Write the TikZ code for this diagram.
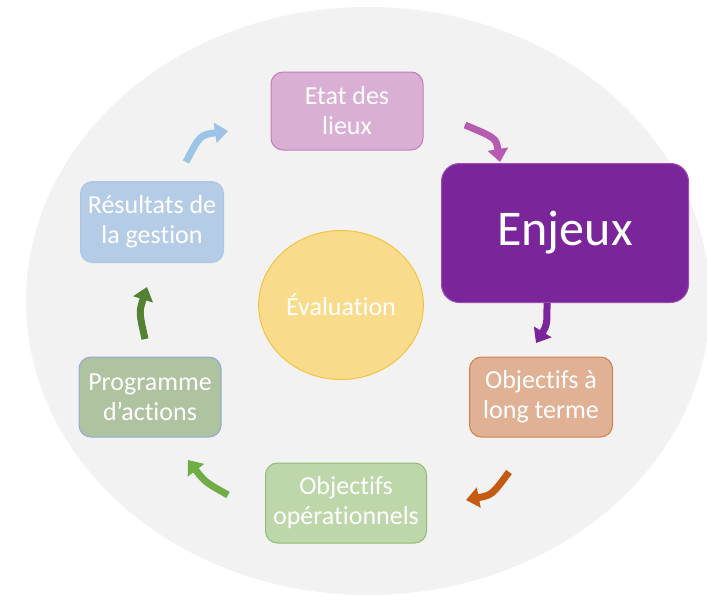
\documentclass[tikz,border=0pt]{standalone}
\usepackage{fontspec}
\setmainfont[Ligatures=NoCommon]{Carlito}
\usepackage{tikz}
\usetikzlibrary{shapes, arrows.meta, positioning}
\usepackage{xcolor}

\definecolor{fond}{HTML}{F2F2F2}
\definecolor{etatfill}{HTML}{D9AFD3}
\definecolor{etatline}{HTML}{C47BBD}
\definecolor{enjeuxfill}{HTML}{7A2599}
\definecolor{enjeuxline}{HTML}{9B4DB3}
\definecolor{longfill}{HTML}{E0B194}
\definecolor{longline}{HTML}{D28048}
\definecolor{opfill}{HTML}{BDD7AA}
\definecolor{opline}{HTML}{8FBC73}
\definecolor{progfill}{HTML}{AFC3A0}
\definecolor{progline}{HTML}{8EAADB}
\definecolor{resfill}{HTML}{B4CCE5}
\definecolor{resline}{HTML}{A9C6E6}
\definecolor{evalfill}{HTML}{F8DC8B}
\definecolor{evalline}{HTML}{F5C243}
\definecolor{flblue}{HTML}{9DC3E6}
\definecolor{flpink}{HTML}{B55CB0}
\definecolor{flpurple}{HTML}{7A2599}
\definecolor{florange}{HTML}{C55A11}
\definecolor{flgreen}{HTML}{70AD47}
\definecolor{fldarkgreen}{HTML}{548235}

\begin{document}
\begin{tikzpicture}[x=1pt, y=-1pt]
            \tikzstyle{entity} = [rectangle, rounded corners=12pt, minimum width=143pt, minimum height=80pt, text centered, align=center, text=white, line width=1pt, font=\fontsize{26}{30}\selectfont]
            \tikzstyle{arrow} = [line width=7pt, -{Triangle[width=20pt, length=13pt]}]

            \useasboundingbox (0,0) rectangle (707,603);
            \begin{scope}
              \clip (0,0) rectangle (707,603);
              \fill[fond] (368,301) ellipse [x radius=342, y radius=294];
            \end{scope}

            \node (etat)[entity, fill=etatfill, draw=etatline, minimum width=152pt, minimum height=78pt] at (347,111) {Etat des\\lieux};
            \node (enjeux)[entity, fill=enjeuxfill, draw=enjeuxline, minimum width=247pt, minimum height=139pt, rounded corners=18pt, font=\fontsize{50}{60}\selectfont] at (565,233) {Enjeux};
            \node (longterme)[entity, fill=longfill, draw=longline] at (541,397) {Objectifs à\\long terme};
            \node (operationnels)[entity, fill=opfill, draw=opline, minimum width=161pt] at (346,503) {Objectifs\\opérationnels};
            \node (programme)[entity, fill=progfill, draw=progline, minimum width=142pt] at (150,397) {Programme\\d’actions};
            \node (resultats)[entity, fill=resfill, draw=resline, minimum height=81pt] at (152,222) {Résultats de\\la gestion};
            \node (evaluation)[ellipse, fill=evalfill, draw=evalline, line width=1pt, minimum width=163pt, minimum height=149pt, text=white, font=\fontsize{26}{30}\selectfont] at (341,305) {Évaluation};

            % arrow ends
            \coordinate (a1) at (465,125);  \coordinate (b1) at (500,162);
            \coordinate (a2) at (547,303);  \coordinate (b2) at (536,343);
            \coordinate (a3) at (509,472);  \coordinate (b3) at (466,500);
            \coordinate (a4) at (228,495);  \coordinate (b4) at (188,460);
            \coordinate (a5) at (145,339);  \coordinate (b5) at (147,287);
            \coordinate (a6) at (186,162);  \coordinate (b6) at (228,131);

            \draw [arrow, flpink] (a1) .. controls (496,138) .. (b1);
            \draw [arrow, flpurple] (a2) .. controls (547,325) .. (b2);
            \draw [arrow, florange] (a3) .. controls (492,495) .. (b3);
            \draw [arrow, flgreen] (a4) .. controls (205,482) .. (b4);
            \draw [arrow, fldarkgreen] (a5) .. controls (139,312) .. (b5);
            \draw [arrow, flblue] (a6) .. controls (200,135) .. (b6);
\end{tikzpicture}
\end{document}
